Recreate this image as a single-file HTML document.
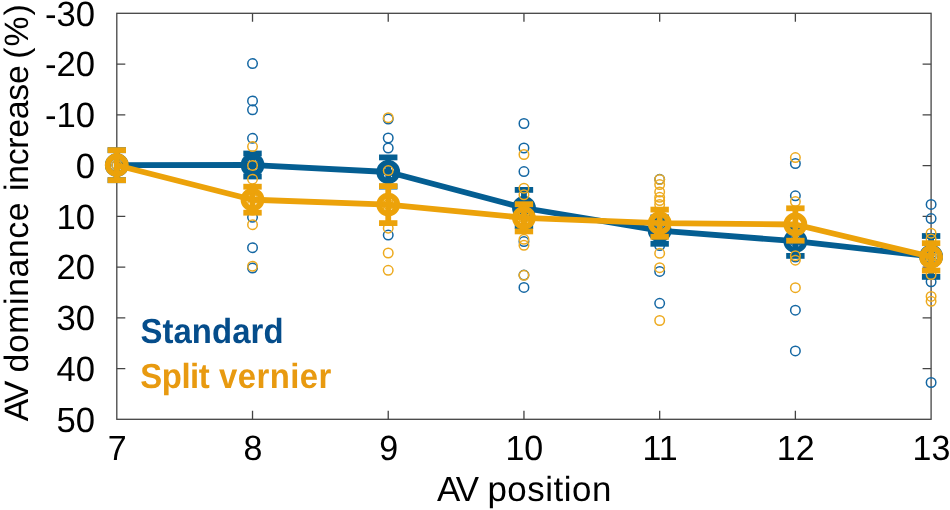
<!DOCTYPE html>
<html><head><meta charset="utf-8"><title>AV dominance increase</title>
<style>
html,body{margin:0;padding:0;background:#fff;}
body{width:950px;height:510px;overflow:hidden;font-family:"Liberation Sans",sans-serif;}
svg{display:block;will-change:transform;text-rendering:geometricPrecision;}
</style></head><body>
<svg width="950" height="510" viewBox="0 0 950 510"><rect width="950" height="510" fill="#fff"/><g fill="none" stroke="#444444" stroke-width="1.3"><rect x="116.8" y="13.3" width="814.3000000000001" height="406.0"/><path d="M252.52 419.3v-8.5M252.52 13.3v8.5"/><path d="M388.23 419.3v-8.5M388.23 13.3v8.5"/><path d="M523.95 419.3v-8.5M523.95 13.3v8.5"/><path d="M659.67 419.3v-8.5M659.67 13.3v8.5"/><path d="M795.38 419.3v-8.5M795.38 13.3v8.5"/><path d="M116.8 64.05h8.5M931.1 64.05h-8.5"/><path d="M116.8 114.80h8.5M931.1 114.80h-8.5"/><path d="M116.8 165.55h8.5M931.1 165.55h-8.5"/><path d="M116.8 216.30h8.5M931.1 216.30h-8.5"/><path d="M116.8 267.05h8.5M931.1 267.05h-8.5"/><path d="M116.8 317.80h8.5M931.1 317.80h-8.5"/><path d="M116.8 368.55h8.5M931.1 368.55h-8.5"/></g><g fill="#000" style="font-family:'Liberation Sans',sans-serif"><text transform="translate(95.00 25.70) scale(1.02 1.03)" text-anchor="end" style="font-size:34px">-30</text><text transform="translate(95.00 76.45) scale(1.02 1.03)" text-anchor="end" style="font-size:34px">-20</text><text transform="translate(95.00 127.20) scale(1.02 1.03)" text-anchor="end" style="font-size:34px">-10</text><text transform="translate(95.00 177.95) scale(1.02 1.03)" text-anchor="end" style="font-size:34px">0</text><text transform="translate(95.00 228.70) scale(1.02 1.03)" text-anchor="end" style="font-size:34px">10</text><text transform="translate(95.00 279.45) scale(1.02 1.03)" text-anchor="end" style="font-size:34px">20</text><text transform="translate(95.00 330.20) scale(1.02 1.03)" text-anchor="end" style="font-size:34px">30</text><text transform="translate(95.00 380.95) scale(1.02 1.03)" text-anchor="end" style="font-size:34px">40</text><text transform="translate(95.00 431.70) scale(1.02 1.03)" text-anchor="end" style="font-size:34px">50</text><text transform="translate(117.20 459.90) scale(1.0 1.03)" text-anchor="middle" style="font-size:34px">7</text><text transform="translate(252.92 459.90) scale(1.0 1.03)" text-anchor="middle" style="font-size:34px">8</text><text transform="translate(388.63 459.90) scale(1.0 1.03)" text-anchor="middle" style="font-size:34px">9</text><text transform="translate(524.35 459.90) scale(1.0 1.03)" text-anchor="middle" style="font-size:34px">10</text><text transform="translate(660.07 459.90) scale(1.0 1.03)" text-anchor="middle" style="font-size:34px">11</text><text transform="translate(795.78 459.90) scale(1.0 1.03)" text-anchor="middle" style="font-size:34px">12</text><text transform="translate(931.50 459.90) scale(1.0 1.03)" text-anchor="middle" style="font-size:34px">13</text><text x="436.9" y="501.2" style="font-size:34.9px;letter-spacing:-1.8px">AV</text><text x="487.4" y="501.2" style="font-size:34.9px;letter-spacing:0.543px">position</text><text transform="translate(27.8 421.2) rotate(-90)" style="font-size:33.8px;letter-spacing:-2.2px">AV</text><text transform="translate(27.8 372.4) rotate(-90)" style="font-size:33.8px;letter-spacing:0.575px">dominance</text><text transform="translate(27.8 191.0) rotate(-90)" style="font-size:33.8px;letter-spacing:-0.286px">increase</text><text transform="translate(27.8 58.8) rotate(-90)" style="font-size:33.8px;letter-spacing:1.0px">(%)</text></g><g style="font-family:'Liberation Sans',sans-serif;font-size:32.9px;font-weight:bold"><text transform="translate(140.4 342.6) scale(1 1.06)" fill="#054d8b" style="letter-spacing:0.086px">Standard</text><text transform="translate(140.3 387.6) scale(1 1.06)" fill="#e89a10" style="letter-spacing:-0.45px">Split</text><text transform="translate(219.1 387.6) scale(1 1.06)" fill="#e89a10" style="letter-spacing:0.4px">vernier</text></g><g fill="none" stroke="#1467a3" stroke-width="1.5"><circle cx="116.80" cy="165.2" r="4.75"/><circle cx="252.52" cy="63.6" r="4.75"/><circle cx="252.52" cy="100.9" r="4.75"/><circle cx="252.52" cy="109.8" r="4.75"/><circle cx="252.52" cy="138.3" r="4.75"/><circle cx="252.52" cy="163.0" r="4.75"/><circle cx="252.52" cy="217.3" r="4.75"/><circle cx="252.52" cy="247.7" r="4.75"/><circle cx="252.52" cy="268.0" r="4.75"/><circle cx="388.23" cy="119.1" r="4.75"/><circle cx="388.23" cy="138.0" r="4.75"/><circle cx="388.23" cy="148.0" r="4.75"/><circle cx="388.23" cy="167.0" r="4.75"/><circle cx="388.23" cy="176.0" r="4.75"/><circle cx="388.23" cy="235.1" r="4.75"/><circle cx="523.95" cy="123.5" r="4.75"/><circle cx="523.95" cy="148.0" r="4.75"/><circle cx="523.95" cy="171.6" r="4.75"/><circle cx="523.95" cy="203.5" r="4.75"/><circle cx="523.95" cy="208.0" r="4.75"/><circle cx="523.95" cy="213.0" r="4.75"/><circle cx="523.95" cy="241.6" r="4.75"/><circle cx="523.95" cy="275.1" r="4.75"/><circle cx="523.95" cy="287.4" r="4.75"/><circle cx="659.67" cy="179.3" r="4.75"/><circle cx="659.67" cy="225.6" r="4.75"/><circle cx="659.67" cy="230.6" r="4.75"/><circle cx="659.67" cy="235.6" r="4.75"/><circle cx="659.67" cy="245.5" r="4.75"/><circle cx="659.67" cy="271.4" r="4.75"/><circle cx="659.67" cy="303.3" r="4.75"/><circle cx="795.38" cy="163.5" r="4.75"/><circle cx="795.38" cy="195.8" r="4.75"/><circle cx="795.38" cy="236.5" r="4.75"/><circle cx="795.38" cy="241.2" r="4.75"/><circle cx="795.38" cy="246.0" r="4.75"/><circle cx="795.38" cy="257.0" r="4.75"/><circle cx="795.38" cy="310.2" r="4.75"/><circle cx="795.38" cy="350.9" r="4.75"/><circle cx="931.10" cy="204.4" r="4.75"/><circle cx="931.10" cy="218.6" r="4.75"/><circle cx="931.10" cy="251.0" r="4.75"/><circle cx="931.10" cy="256.0" r="4.75"/><circle cx="931.10" cy="261.0" r="4.75"/><circle cx="931.10" cy="281.8" r="4.75"/><circle cx="931.10" cy="382.5" r="4.75"/></g><g fill="none" stroke="#045e92" stroke-width="5.8"><polyline points="116.80,165.2 252.52,165.0 388.23,172.0 523.95,208.0 659.67,230.6 795.38,241.2 931.10,256.4" stroke-linejoin="round"/><path d="M116.80 150.2V180.2"/><path d="M107.60 150.2H126.00"/><path d="M107.60 180.2H126.00"/><circle cx="116.80" cy="165.2" r="9.0"/><path d="M252.52 153.5V176.5"/><path d="M243.32 153.5H261.72"/><path d="M243.32 176.5H261.72"/><circle cx="252.52" cy="165.0" r="9.0"/><path d="M388.23 157.4V186.6"/><path d="M379.03 157.4H397.43"/><path d="M379.03 186.6H397.43"/><circle cx="388.23" cy="172.0" r="9.0"/><path d="M523.95 189.9V226.1"/><path d="M514.75 189.9H533.15"/><path d="M514.75 226.1H533.15"/><circle cx="523.95" cy="208.0" r="9.0"/><path d="M659.67 217.4V243.8"/><path d="M650.47 217.4H668.87"/><path d="M650.47 243.8H668.87"/><circle cx="659.67" cy="230.6" r="9.0"/><path d="M795.38 226.5V255.9"/><path d="M786.18 226.5H804.58"/><path d="M786.18 255.9H804.58"/><circle cx="795.38" cy="241.2" r="9.0"/><path d="M931.10 236.0V276.9"/><path d="M921.90 236.0H940.30"/><path d="M921.90 276.9H940.30"/><circle cx="931.10" cy="256.4" r="9.0"/></g><g fill="none" stroke="#edaa1f" stroke-width="1.5"><circle cx="116.80" cy="165.2" r="4.75"/><circle cx="252.52" cy="146.6" r="4.75"/><circle cx="252.52" cy="165.4" r="4.75"/><circle cx="252.52" cy="179.2" r="4.75"/><circle cx="252.52" cy="191.0" r="4.75"/><circle cx="252.52" cy="198.0" r="4.75"/><circle cx="252.52" cy="204.0" r="4.75"/><circle cx="252.52" cy="210.0" r="4.75"/><circle cx="252.52" cy="224.7" r="4.75"/><circle cx="252.52" cy="266.2" r="4.75"/><circle cx="388.23" cy="117.7" r="4.75"/><circle cx="388.23" cy="170.6" r="4.75"/><circle cx="388.23" cy="199.5" r="4.75"/><circle cx="388.23" cy="204.5" r="4.75"/><circle cx="388.23" cy="209.5" r="4.75"/><circle cx="388.23" cy="228.2" r="4.75"/><circle cx="388.23" cy="253.0" r="4.75"/><circle cx="388.23" cy="270.3" r="4.75"/><circle cx="523.95" cy="154.5" r="4.75"/><circle cx="523.95" cy="188.2" r="4.75"/><circle cx="523.95" cy="194.8" r="4.75"/><circle cx="523.95" cy="213.0" r="4.75"/><circle cx="523.95" cy="218.0" r="4.75"/><circle cx="523.95" cy="223.0" r="4.75"/><circle cx="523.95" cy="239.3" r="4.75"/><circle cx="523.95" cy="245.3" r="4.75"/><circle cx="523.95" cy="275.3" r="4.75"/><circle cx="659.67" cy="179.5" r="4.75"/><circle cx="659.67" cy="184.6" r="4.75"/><circle cx="659.67" cy="192.0" r="4.75"/><circle cx="659.67" cy="197.3" r="4.75"/><circle cx="659.67" cy="200.5" r="4.75"/><circle cx="659.67" cy="204.6" r="4.75"/><circle cx="659.67" cy="253.3" r="4.75"/><circle cx="659.67" cy="267.7" r="4.75"/><circle cx="659.67" cy="320.5" r="4.75"/><circle cx="795.38" cy="157.6" r="4.75"/><circle cx="795.38" cy="201.6" r="4.75"/><circle cx="795.38" cy="255.7" r="4.75"/><circle cx="795.38" cy="260.2" r="4.75"/><circle cx="795.38" cy="287.7" r="4.75"/><circle cx="931.10" cy="233.2" r="4.75"/><circle cx="931.10" cy="239.0" r="4.75"/><circle cx="931.10" cy="252.0" r="4.75"/><circle cx="931.10" cy="256.9" r="4.75"/><circle cx="931.10" cy="262.0" r="4.75"/><circle cx="931.10" cy="274.6" r="4.75"/><circle cx="931.10" cy="296.4" r="4.75"/><circle cx="931.10" cy="301.3" r="4.75"/></g><g fill="none" stroke="#eca20a" stroke-width="5.8"><polyline points="116.80,165.2 252.52,199.7 388.23,204.6 523.95,217.8 659.67,223.2 795.38,224.5 931.10,256.9" stroke-linejoin="round"/><path d="M116.80 150.2V180.2"/><path d="M107.60 150.2H126.00"/><path d="M107.60 180.2H126.00"/><circle cx="116.80" cy="165.2" r="9.0"/><path d="M252.52 186.7V212.7"/><path d="M243.32 186.7H261.72"/><path d="M243.32 212.7H261.72"/><circle cx="252.52" cy="199.7" r="9.0"/><path d="M388.23 186.1V223.1"/><path d="M379.03 186.1H397.43"/><path d="M379.03 223.1H397.43"/><circle cx="388.23" cy="204.6" r="9.0"/><path d="M523.95 204.2V231.4"/><path d="M514.75 204.2H533.15"/><path d="M514.75 231.4H533.15"/><circle cx="523.95" cy="217.8" r="9.0"/><path d="M659.67 209.6V236.8"/><path d="M650.47 209.6H668.87"/><path d="M650.47 236.8H668.87"/><circle cx="659.67" cy="223.2" r="9.0"/><path d="M795.38 208.3V240.7"/><path d="M786.18 208.3H804.58"/><path d="M786.18 240.7H804.58"/><circle cx="795.38" cy="224.5" r="9.0"/><path d="M931.10 243.2V270.6"/><path d="M921.90 243.2H940.30"/><path d="M921.90 270.6H940.30"/><circle cx="931.10" cy="256.9" r="9.0"/></g></svg>
</body></html>
